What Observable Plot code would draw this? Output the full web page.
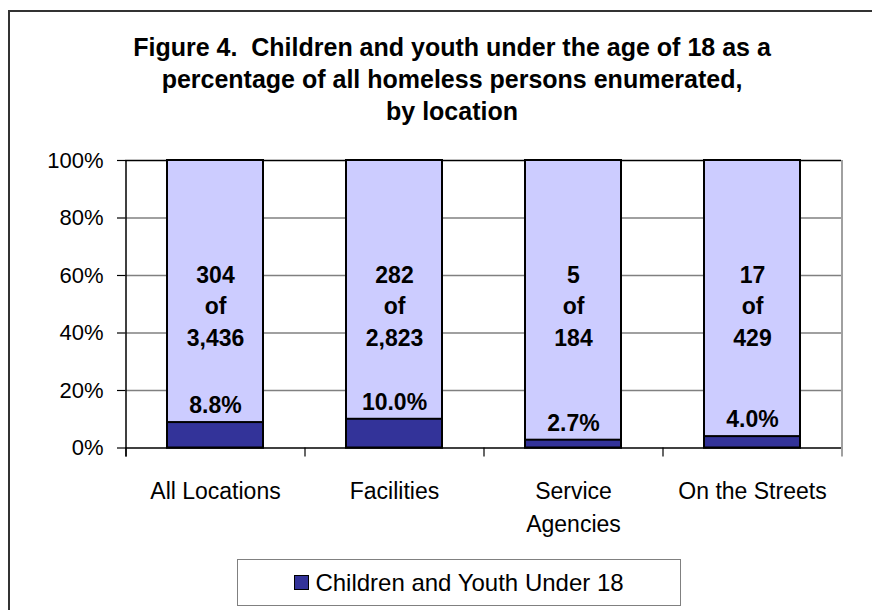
<!DOCTYPE html>
<html>
<head>
<meta charset="utf-8">
<script src="https://cdn.jsdelivr.net/npm/d3@7"></script>
<script src="https://cdn.jsdelivr.net/npm/@observablehq/plot@0.6"></script>
<style>
  html, body { margin: 0; padding: 0; overflow: hidden; background: #fff; }
  #wrap { position: relative; width: 872px; height: 610px; overflow: hidden; background: #fff;
          font-family: "Liberation Sans", Arial, sans-serif; }
  #border { position: absolute; left: 8px; top: 10px; width: 950px; height: 700px;
            border: 2px solid #333; box-sizing: border-box; }
  #title { position: absolute; left: 8px; width: 888px; top: 31px; text-align: center;
           font-weight: bold; font-size: 25px; line-height: 32px; color: #000; }
  #chart { position: absolute; left: 0; top: 0; }
  #legend { position: absolute; left: 237px; top: 559px; width: 444px; height: 47px;
            border: 1px solid #808080; box-sizing: border-box; display: flex;
            align-items: center; justify-content: center; font-size: 24px; color: #000; }
  #legend .sw { width: 15px; height: 15px; background: #333399; border: 1px solid #000;
                box-sizing: border-box; margin-right: 6px; }
</style>
</head>
<body>
<div id="wrap">
  <div id="border"></div>
  <div id="title"></div>
  <div id="chart"></div>
  <div id="legend"></div>
</div>
<script>
const titleLines = [
  "Figure 4.\u00a0 Children and youth under the age of 18 as a",
  "percentage of all homeless persons enumerated,",
  "by location"
];
const categories = ["All Locations", "Facilities", "Service Agencies", "On the Streets"];
const categoryLabels = ["All Locations", "Facilities", "Service\nAgencies", "On the Streets"];
const childrenCounts = [304, 282, 5, 17];
const totalCounts = [3436, 2823, 184, 429];
const yTicks = [0, 20, 40, 60, 80, 100];
const seriesName = "Children and Youth Under 18";
const lightColor = "#ccccff";
const darkColor = "#333399";

document.getElementById("title").innerHTML = titleLines.join("<br>");
document.getElementById("legend").innerHTML = `<span class="sw"></span><span>${seriesName}</span>`;

const rows = categories.map((c, i) => ({
  cat: c,
  label: categoryLabels[i],
  kids: childrenCounts[i],
  total: totalCounts[i],
  share: childrenCounts[i] / totalCounts[i] * 100,
  whole: totalCounts[i] / totalCounts[i] * 100
}));

const W = 872, H = 540, mL = 125, mR = 31, mT = 160, mB = 92.5;
const step = (W - mL - mR) / categories.length;
const plotH = H - mT - mB;
const fmt = d3.format(",");
const first = [categories[0]];
const last = [categories[categories.length - 1]];

const chart = Plot.plot({
  width: W, height: H,
  marginLeft: mL, marginRight: mR, marginTop: mT, marginBottom: mB,
  style: { background: "transparent", fontFamily: "'Liberation Sans', Arial, sans-serif", color: "#000" },
  x: { domain: categories, paddingInner: 0.464, paddingOuter: 0.232, axis: null },
  y: { domain: [0, 100], axis: null },
  marks: [
    Plot.ruleY(yTicks.filter(d => d > 0 && d < 100), { stroke: "#808080", strokeWidth: 1.5 }),
    Plot.ruleY(yTicks.filter(d => d === 100), { stroke: "#000", strokeWidth: 1.5 }),
    Plot.ruleX(last, { x: d => d, dx: step / 2, stroke: "#808080", strokeWidth: 1.5, insetBottom: -9 }),
    Plot.ruleX(categories, { x: d => d, dx: -step / 2, stroke: "#000", strokeWidth: 1.2, insetTop: plotH, insetBottom: -9 }),
    Plot.barY(rows, { x: "cat", y: "whole", fill: lightColor, stroke: "#000", strokeWidth: 2 }),
    Plot.barY(rows, { x: "cat", y: "share", fill: darkColor, stroke: "#000", strokeWidth: 2 }),
    Plot.ruleY([0], { stroke: "#000", strokeWidth: 1.5 }),
    Plot.ruleX(first, { x: d => d, dx: -step / 2, stroke: "#000", strokeWidth: 1.5, insetBottom: -9 }),
    Plot.axisY({ ticks: yTicks, tickFormat: d => d + "%", tickSize: 8, tickPadding: 14,
                 fontSize: 22, stroke: "#000", strokeWidth: 1.2, label: null }),
    Plot.axisX({ tickSize: 0, tickPadding: 27, fontSize: 23, lineHeight: 1.45, label: null,
                 tickFormat: d => categoryLabels[categories.indexOf(d)] }),
    Plot.text(rows, { x: "cat", frameAnchor: "middle",
                      text: d => `${d.kids}\nof\n${fmt(d.total)}`,
                      fontSize: 23, fontWeight: "bold", lineHeight: 1.39, fill: "#000" }),
    Plot.text(rows, { x: "cat", y: "share", dy: -17,
                      text: d => d.share.toFixed(1) + "%",
                      fontSize: 23, fontWeight: "bold", fill: "#000" })
  ]
});
document.getElementById("chart").appendChild(chart);
</script>
</body>
</html>
